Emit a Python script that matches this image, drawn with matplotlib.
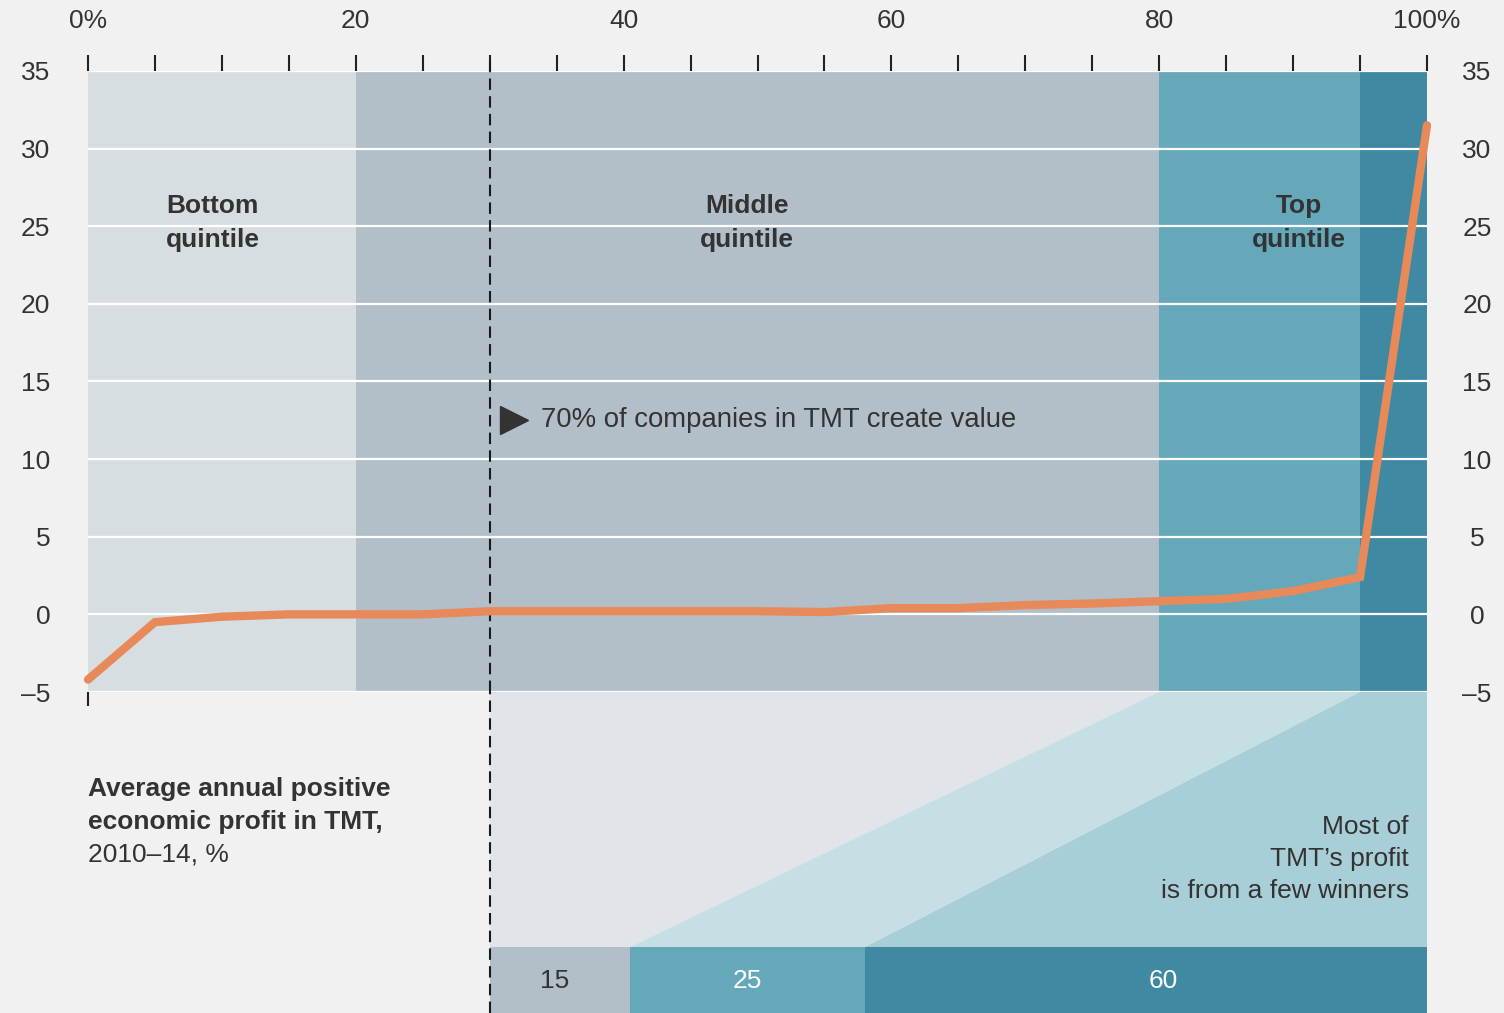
import numpy as np
import matplotlib
matplotlib.use('Agg')
import matplotlib.pyplot as plt

plt.rcParams['font.family'] = ['Liberation Sans', 'DejaVu Sans']

# companies ranked by economic profit, cumulative share (%)
pct = [0, 5, 10, 15, 20, 25, 30, 35, 40, 45, 50, 55, 60, 65, 70, 75, 80, 85, 90, 95, 100]
profit = [-4.2, -0.5, -0.15, 0.0, 0.0, 0.0, 0.2, 0.2, 0.2, 0.2, 0.2, 0.15, 0.4, 0.4,
          0.6, 0.7, 0.85, 1.0, 1.5, 2.4, 31.5]

band_edges = [0, 20, 80, 95, 100]
band_colors = ['#D7DEE1', '#B2BFC8', '#65A8BA', '#4089A3']

value_threshold = 30           # 70% of companies create value
share_labels = ['15', '25', '60']
shares = [15, 25, 60]           # share of total profit, %
share_colors = ['#B2BFC8', '#65A8BA', '#4089A3']
share_text_colors = ['#333333', 'white', 'white']
funnel_tops = [(30, 80), (80, 95), (95, 100)]
funnel_colors = ['#E1E4E9', '#C6DFE4', '#A8CFD7']

quintile_labels = ['Bottom\nquintile', 'Middle\nquintile', 'Top\nquintile']
quintile_x = [9.3, 49.2, 90.4]

xticks = list(range(0, 101, 5))
yticks = list(range(-5, 36, 5))

bg = '#F1F1F1'
txt = '#333333'
fs = 19

fig = plt.figure(figsize=(15.04, 10.13), dpi=100, facecolor=bg)
ax = fig.add_axes([88/1504, 1 - 692/1013, 1339/1504, 621/1013])
ax.set_facecolor(bg)
ax.set_xlim(0, 100)
ax.set_ylim(-5, 35)

for i in range(len(band_colors)):
    ax.axvspan(band_edges[i], band_edges[i+1], color=band_colors[i], lw=0, zorder=0)

ax.grid(axis='y', color='white', lw=1.6)
ax.grid(axis='x', visible=False)
for s in ax.spines.values():
    s.set_visible(False)

ax.plot(pct, profit, color='#E8895A', lw=6, solid_capstyle='round',
        solid_joinstyle='miter', zorder=4, clip_on=False)

# top axis ticks
ax.xaxis.tick_top()
ax.set_xticks(xticks)
xl = []
for x in xticks:
    if x == 0 or x == 100:
        xl.append(f'{x}%')
    elif x % 20 == 0:
        xl.append(str(x))
    else:
        xl.append('')
ax.set_xticklabels(xl)
ax.tick_params(axis='x', length=11.5, width=1.5, color='#222222', pad=16,
               labelsize=fs, labelcolor=txt, direction='out')

sec = ax.secondary_xaxis('bottom')
sec.set_xticks([0])
sec.set_xticklabels([''])
sec.tick_params(length=10, width=1.5, color='#222222')
sec.spines['bottom'].set_visible(False)

ylab = [str(y).replace('-', '\u2013') for y in yticks]
ax.set_yticks(yticks)
ax.set_yticklabels(ylab)
ax.tick_params(axis='y', length=0, labelsize=fs, labelcolor=txt, pad=27)

ax_r = ax.twinx()
ax_r.set_ylim(-5, 35)
ax_r.set_yticks(yticks)
ax_r.set_yticklabels(ylab)
ax_r.tick_params(axis='y', length=0, labelsize=fs, labelcolor=txt, pad=36)
for t in ax_r.yaxis.get_major_ticks():
    t.label2.set_horizontalalignment('center')
for s in ax_r.spines.values():
    s.set_visible(False)

ax.axvline(value_threshold, ymin=0, ymax=1 + 16/621, clip_on=False, color='#1A1A1A',
           lw=1.5, ls=(0, (5.5, 3)), zorder=3)

for lab, x in zip(quintile_labels, quintile_x):
    ax.text(x, 25.2, lab, ha='center', va='center', fontsize=fs, fontweight='bold',
            color=txt, linespacing=1.5)

ax.plot(31.8, 12.5, marker='>', ms=20, color='#333333', ls='none', zorder=5)
ax.text(33.8, 12.5, '70% of companies in TMT create value', ha='left', va='center',
        fontsize=19.8, color=txt)

# lower part: where the profit goes
ax2 = fig.add_axes([88/1504, 0, 1339/1504, 321/1013])
ax2.set_xlim(0, 100)
ax2.set_ylim(0, 321)
ax2.axis('off')

span = 100 - value_threshold
lefts = value_threshold + span * np.concatenate([[0], np.cumsum(shares)[:-1]]) / 100.0
widths = span * np.array(shares) / 100.0

for (t0, t1), l, w, c in zip(funnel_tops, lefts, widths, funnel_colors):
    ax2.fill([t0, t1, l + w, l], [321, 321, 66, 66], color=c, lw=0, zorder=0)

ax2.bar(lefts, 66, width=widths, bottom=0, align='edge', color=share_colors, lw=0, zorder=1)
label_shift = [-0.4, 0.0, 1.3]
for l, w, lab, tc, dx in zip(lefts, widths, share_labels, share_text_colors, label_shift):
    ax2.text(l + w/2 + dx, 32, lab, ha='center', va='center', fontsize=fs, color=tc, zorder=2)

ax2.axvline(value_threshold, color='#1A1A1A', lw=1.5, ls=(0, (5.5, 3)), zorder=3)

ax2.text(0, 224, 'Average annual positive', ha='left', va='center', fontsize=fs,
         fontweight='bold', color=txt)
ax2.text(0, 191, 'economic profit in TMT,', ha='left', va='center', fontsize=fs,
         fontweight='bold', color=txt)
ax2.text(0, 159, '2010\u201314, %', ha='left', va='center', fontsize=fs, color=txt)

ax2.text(98.65, 154, 'Most of\nTMT\u2019s profit\nis from a few winners', ha='right',
         va='center', fontsize=fs, color=txt, linespacing=1.42)

fig.savefig('out.png', dpi=100, facecolor=bg)
